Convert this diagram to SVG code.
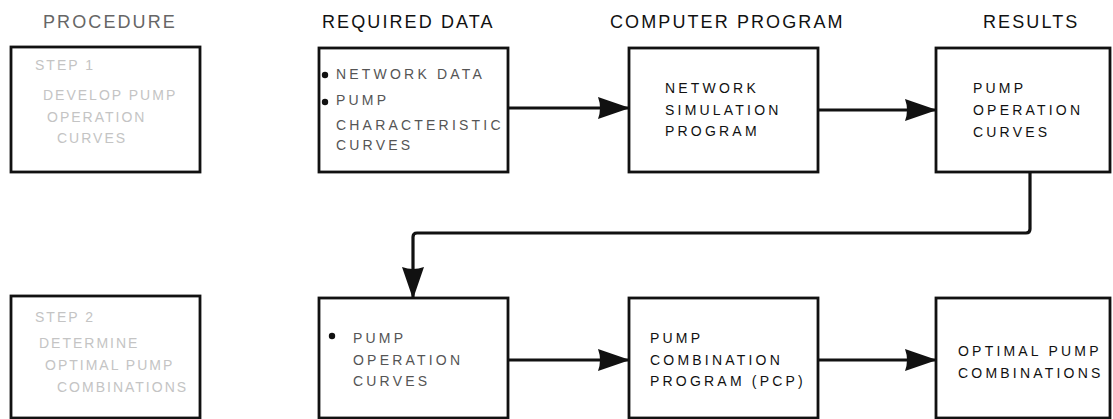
<svg xmlns="http://www.w3.org/2000/svg" width="1113" height="419" viewBox="0 0 1113 419">
  <style>
    .box { fill: #ffffff; stroke: #111111; stroke-width: 2.8; }
    .title { font-family: "Liberation Sans", Arial, sans-serif; font-size: 18px; letter-spacing: 2.1px; fill: #111111; }
    .title.faint { fill: #666666; }
    .label { font-family: "Liberation Sans", Arial, sans-serif; font-size: 14px; letter-spacing: 3.2px; fill: #111111; }
    .label.light { fill: #555555; }
    .label.faint { fill: #c4c4c4; letter-spacing: 2px; }
    .wire { fill: none; stroke: #111111; stroke-width: 3.2; stroke-linejoin: round; }
    .dot { fill: #111111; }
  </style>
  <defs>
    <marker id="arrow" viewBox="0 0 32 24" refX="31" refY="12" markerWidth="32" markerHeight="24" markerUnits="userSpaceOnUse" orient="auto">
      <path d="M0,1 L32,12 L0,23 Q4,12 0,1 Z" fill="#111111"/>
    </marker>
  </defs>

  <!-- column headings -->
  <g id="headings">
    <text class="title faint" x="43" y="28">PROCEDURE</text>
    <text class="title" x="322" y="28" letter-spacing="2.5">REQUIRED DATA</text>
    <text class="title" x="610" y="28">COMPUTER PROGRAM</text>
    <text class="title" x="983" y="28">RESULTS</text>
  </g>

  <!-- step 1 row -->
  <g id="step1">
    <rect class="box" x="11" y="47" width="189" height="125"/>
    <text class="label faint" x="35" y="70">STEP 1</text>
    <text class="label faint" x="43" y="100">DEVELOP PUMP</text>
    <text class="label faint" x="47" y="122">OPERATION</text>
    <text class="label faint" x="57" y="143">CURVES</text>
  </g>

  <g id="required-data-1">
    <rect class="box" x="319" y="48" width="189" height="124"/>
    <circle class="dot" cx="325" cy="75" r="3.2"/>
    <circle class="dot" cx="325" cy="102" r="3.2"/>
    <text class="label light" x="336" y="79">NETWORK DATA</text>
    <text class="label light" x="336" y="105">PUMP</text>
    <text class="label light" x="336" y="130">CHARACTERISTIC</text>
    <text class="label light" x="336" y="150">CURVES</text>
  </g>

  <g id="network-simulation">
    <rect class="box" x="629" y="48" width="189" height="124"/>
    <text class="label" x="665" y="93">NETWORK</text>
    <text class="label" x="665" y="115">SIMULATION</text>
    <text class="label" x="665" y="136">PROGRAM</text>
  </g>

  <g id="pump-operation-curves">
    <rect class="box" x="936" y="48" width="174" height="124"/>
    <text class="label" x="973" y="93">PUMP</text>
    <text class="label" x="973" y="115">OPERATION</text>
    <text class="label" x="973" y="137">CURVES</text>
  </g>

  <!-- step 2 row -->
  <g id="step2">
    <rect class="box" x="11" y="296" width="189" height="122"/>
    <text class="label faint" x="35" y="322">STEP 2</text>
    <text class="label faint" x="39" y="348">DETERMINE</text>
    <text class="label faint" x="45" y="370">OPTIMAL PUMP</text>
    <text class="label faint" x="57" y="392">COMBINATIONS</text>
  </g>

  <g id="required-data-2">
    <rect class="box" x="319" y="298" width="189" height="120"/>
    <circle class="dot" cx="332" cy="336" r="3.2"/>
    <text class="label light" x="353" y="343">PUMP</text>
    <text class="label light" x="353" y="365">OPERATION</text>
    <text class="label light" x="353" y="386">CURVES</text>
  </g>

  <g id="pump-combination-program">
    <rect class="box" x="629" y="298" width="189" height="120"/>
    <text class="label" x="650" y="343">PUMP</text>
    <text class="label" x="650" y="365">COMBINATION</text>
    <text class="label" x="650" y="386">PROGRAM (PCP)</text>
  </g>

  <g id="optimal-pump-combinations">
    <rect class="box" x="936" y="298" width="174" height="120"/>
    <text class="label" x="958" y="356">OPTIMAL PUMP</text>
    <text class="label" x="958" y="378">COMBINATIONS</text>
  </g>

  <!-- connectors -->
  <g id="connectors">
    <path class="wire" d="M508,108 L629,108" marker-end="url(#arrow)"/>
    <path class="wire" d="M818,110 L936,110" marker-end="url(#arrow)"/>
    <path class="wire" d="M1030,172 L1030,229 Q1030,233 1026,233 L417,233 Q413,233 413,237 L413,298" marker-end="url(#arrow)"/>
    <path class="wire" d="M508,360 L629,360" marker-end="url(#arrow)"/>
    <path class="wire" d="M818,360 L936,360" marker-end="url(#arrow)"/>
  </g>
</svg>
